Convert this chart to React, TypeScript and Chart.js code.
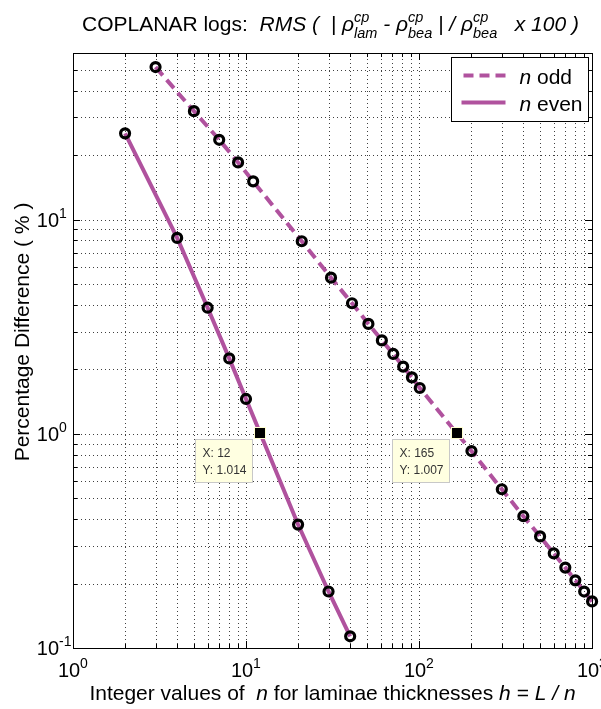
import React, { useEffect, useRef } from "react";
import { Chart, registerables } from "chart.js";

Chart.register(...registerables);

// ---- data ----
const oddN = [3, 5, 7, 9, 11, 21, 31, 41, 51, 61, 71, 81, 91, 101, 201, 301, 401, 501, 601, 701, 801, 901, 1001];
const oddPct = [51.6, 32.1, 23.6, 18.5, 15.1, 7.93, 5.36, 4.07, 3.26, 2.73, 2.36, 2.06, 1.835, 1.637, 0.831, 0.551, 0.4125, 0.332, 0.2766, 0.2373, 0.207, 0.1835, 0.165];
const evenN = [2, 4, 6, 8, 10, 20, 30, 40];
const evenPct = [25.3, 8.22, 3.88, 2.25, 1.455, 0.377, 0.1836, 0.1134];
const tipX = [12, 165];
const tipY = [1.014, 1.007];
const xTickValues = [1, 2, 3, 4, 5, 6, 7, 8, 9, 10, 20, 30, 40, 50, 60, 70, 80, 90, 100, 200, 300, 400, 500, 600, 700, 800, 900, 1000];
const yTickValues = [0.1, 0.2, 0.3, 0.4, 0.5, 0.6, 0.7, 0.8, 0.9, 1, 2, 3, 4, 5, 6, 7, 8, 9, 10, 20, 30, 40, 50];
const xMajorValues = [1, 10, 100, 1000];
const xMajorExps = ["0", "1", "2", "3"];
const yMajorValues = [0.1, 1, 10];
const yMajorExps = ["-1", "0", "1"];
const xMin = 1, xMax = 1000, yMin = 0.1, yMax = 60;

const LINE_COLOR = "rgb(176,82,158)";
const FONT = '"Liberation Sans", Arial, Helvetica, sans-serif';
const f = (sz: number, it?: boolean) => `${it ? "italic " : ""}${sz}px ${FONT}`;

type Seg = { t?: string; it?: boolean; sz?: number; dy?: number; sup?: string; sub?: string };

function segW(ctx: CanvasRenderingContext2D, s: Seg, subSz: number) {
  if (s.sup !== undefined) {
    ctx.font = f(subSz, s.it);
    return Math.max(ctx.measureText(s.sup).width, ctx.measureText(s.sub || "").width);
  }
  ctx.font = f(s.sz || 17, s.it);
  return ctx.measureText(s.t || "").width;
}

function drawRich(ctx: CanvasRenderingContext2D, segs: Seg[], x: number, y: number, align: string, subSz = 12, supDy = -8, subDy = 6) {
  const ws = segs.map((s) => segW(ctx, s, subSz));
  const total = ws.reduce((a, b) => a + b, 0);
  let cx = align === "left" ? x : align === "center" ? x - total / 2 : x - total;
  ctx.textAlign = "left";
  ctx.textBaseline = "alphabetic";
  segs.forEach((s, i) => {
    if (s.sup !== undefined) {
      ctx.font = f(subSz, s.it);
      ctx.fillText(s.sup, cx, y + supDy);
      ctx.fillText(s.sub || "", cx, y + subDy);
    } else {
      ctx.font = f(s.sz || 17, s.it);
      ctx.fillText(s.t || "", cx, y + (s.dy || 0));
    }
    cx += ws[i];
  });
  return total;
}

const dottedGrid = {
  id: "dottedGrid",
  beforeDatasetsDraw(chart: any) {
    const ctx: CanvasRenderingContext2D = chart.ctx;
    const { left, right, top, bottom } = chart.chartArea;
    const xs = chart.scales.x;
    const ys = chart.scales.y;
    ctx.save();
    ctx.strokeStyle = "rgba(0,0,0,0.75)";
    ctx.lineWidth = 1;
    ctx.setLineDash([1, 3]);
    ctx.beginPath();
    xs.ticks.forEach((t: any) => {
      if (t.value <= xMin || t.value >= xMax) return;
      const px = Math.round(xs.getPixelForValue(t.value)) + 0.5;
      ctx.moveTo(px, bottom);
      ctx.lineTo(px, top);
    });
    ys.ticks.forEach((t: any) => {
      if (t.value <= yMin || t.value >= yMax) return;
      const py = Math.round(ys.getPixelForValue(t.value)) + 0.5;
      ctx.moveTo(left, py);
      ctx.lineTo(right, py);
    });
    ctx.stroke();
    ctx.restore();
  },
};

const decor = {
  id: "matlabDecor",
  afterDraw(chart: any) {
    const ctx: CanvasRenderingContext2D = chart.ctx;
    const { left, right, top, bottom } = chart.chartArea;
    const xs = chart.scales.x;
    const ys = chart.scales.y;
    ctx.save();
    ctx.fillStyle = "#000";
    ctx.strokeStyle = "#000";

    // tick marks (inward, all four sides)
    ctx.lineWidth = 1;
    ctx.beginPath();
    xs.ticks.forEach((t: any) => {
      const v = t.value;
      if (v <= xMin || v >= xMax) return;
      const px = Math.round(xs.getPixelForValue(v)) + 0.5;
      const len = xMajorValues.includes(v) ? 7 : 4;
      ctx.moveTo(px, bottom);
      ctx.lineTo(px, bottom - len);
      ctx.moveTo(px, top);
      ctx.lineTo(px, top + len);
    });
    ys.ticks.forEach((t: any) => {
      const v = t.value;
      if (v <= yMin || v >= yMax) return;
      const py = Math.round(ys.getPixelForValue(v)) + 0.5;
      const len = yMajorValues.includes(v) ? 7 : 4;
      ctx.moveTo(left, py);
      ctx.lineTo(left + len, py);
      ctx.moveTo(right, py);
      ctx.lineTo(right - len, py);
    });
    ctx.stroke();

    // frame
    ctx.strokeRect(Math.round(left) + 0.5, Math.round(top) + 0.5, Math.round(right - left), Math.round(bottom - top));

    // tick labels
    ctx.fillStyle = "#000";
    xMajorValues.forEach((v, i) => {
      const px = xs.getPixelForValue(v);
      ctx.font = f(20);
      const w10 = ctx.measureText("10").width;
      drawRich(ctx, [{ t: "10", sz: 20 }, { t: xMajorExps[i], sz: 14, dy: -9 }], px - w10 / 2 - 4, bottom + 29, "left");
    });
    yMajorValues.forEach((v, i) => {
      const py = ys.getPixelForValue(v);
      ctx.font = f(20);
      const w10 = ctx.measureText("10").width;
      drawRich(ctx, [{ t: "10", sz: 20 }, { t: yMajorExps[i], sz: 14, dy: -9 }], left - 14 - w10, py + 7, "left");
    });

    // title
    drawRich(
      ctx,
      [
        { t: "COPLANAR logs:  ", sz: 21 },
        { t: "RMS (  | \u03C1", it: true, sz: 21 },
        { sup: "cp", sub: "lam", it: true },
        { t: " - \u03C1", it: true, sz: 21 },
        { sup: "cp", sub: "bea", it: true },
        { t: " | / \u03C1", it: true, sz: 21 },
        { sup: "cp", sub: "bea", it: true },
        { t: "   x 100 )", it: true, sz: 21 },
      ],
      (left + right) / 2 - 2,
      31,
      "center",
      14.5,
      -9,
      7
    );

    // x label
    drawRich(
      ctx,
      [
        { t: "Integer values of  ", sz: 21 },
        { t: "n", it: true, sz: 21 },
        { t: " for laminae thicknesses ", sz: 21 },
        { t: "h", it: true, sz: 21 },
        { t: " = ", sz: 21 },
        { t: "L / n", it: true, sz: 21 },
      ],
      (left + right) / 2,
      bottom + 52,
      "center"
    );

    // y label
    ctx.save();
    ctx.translate(29, 332);
    ctx.rotate(-Math.PI / 2);
    ctx.font = f(21);
    ctx.textAlign = "center";
    ctx.textBaseline = "alphabetic";
    ctx.fillText("Percentage Difference ( % )", 0, 0);
    ctx.restore();

    // data tips: marker + box
    tipX.forEach((xv, i) => {
      const px = xs.getPixelForValue(xv);
      const py = ys.getPixelForValue(tipY[i]);
      ctx.fillStyle = "#FFFFD0";
      ctx.fillRect(Math.round(px) - 6, Math.round(py) - 6, 12, 12);
      ctx.fillStyle = "#000";
      ctx.fillRect(Math.round(px) - 5, Math.round(py) - 5, 10, 10);
      const bw = 57, bh = 43;
      const bx = Math.round(px - 8 - bw) + 0.5;
      const by = Math.round(py + 6) + 0.5;
      ctx.fillStyle = "#FFFFE1";
      ctx.fillRect(bx, by, bw, bh);
      ctx.strokeStyle = "#C8C8C8";
      ctx.lineWidth = 1;
      ctx.strokeRect(bx, by, bw, bh);
      ctx.fillStyle = "#333";
      ctx.font = f(12);
      ctx.textAlign = "left";
      ctx.fillText("X: " + xv, bx + 7, by + 17);
      ctx.fillText("Y: " + tipY[i].toFixed(3), bx + 7, by + 34);
    });

    // legend
    const lw = 137, lh = 64;
    const lx = Math.round(right - 4 - lw) + 0.5;
    const ly = Math.round(top + 4) + 0.5;
    ctx.fillStyle = "#fff";
    ctx.fillRect(lx, ly, lw, lh);
    ctx.strokeStyle = "#000";
    ctx.lineWidth = 1;
    ctx.strokeRect(lx, ly, lw, lh);
    ctx.strokeStyle = LINE_COLOR;
    ctx.lineWidth = 4;
    ctx.setLineDash([10, 6]);
    ctx.beginPath();
    ctx.moveTo(lx + 12, ly + 18);
    ctx.lineTo(lx + 54, ly + 18);
    ctx.stroke();
    ctx.setLineDash([]);
    ctx.beginPath();
    ctx.moveTo(lx + 10, ly + 45);
    ctx.lineTo(lx + 54, ly + 45);
    ctx.stroke();
    ctx.fillStyle = "#000";
    drawRich(ctx, [{ t: "n", it: true, sz: 21 }, { t: " odd", sz: 21 }], lx + 68, ly + 26, "left");
    drawRich(ctx, [{ t: "n", it: true, sz: 21 }, { t: " even", sz: 21 }], lx + 68, ly + 53, "left");

    ctx.restore();
  },
};

export default function App() {
  const ref = useRef<HTMLCanvasElement>(null);
  useEffect(() => {
    const canvas = ref.current;
    if (!canvas) return;
    const pointStyle = {
      pointRadius: 4.5,
      pointBorderWidth: 3.2,
      pointBorderColor: "#000",
      pointBackgroundColor: "rgba(0,0,0,0)",
    };
    const chart = new Chart(canvas, {
      type: "line",
      data: {
        datasets: [
          {
            label: "n odd",
            data: oddN.map((n, i) => ({ x: n, y: oddPct[i] })),
            borderColor: LINE_COLOR,
            borderWidth: 4,
            borderDash: [11, 6],
            ...pointStyle,
            fill: false,
            tension: 0,
            clip: false,
          },
          {
            label: "n even",
            data: evenN.map((n, i) => ({ x: n, y: evenPct[i] })),
            borderColor: LINE_COLOR,
            borderWidth: 4,
            ...pointStyle,
            fill: false,
            tension: 0,
            clip: false,
          },
        ],
      },
      options: {
        responsive: false,
        animation: false,
        devicePixelRatio: 1,
        events: [],
        layout: { padding: { left: 73, right: 9, top: 53, bottom: 61 } },
        plugins: { legend: { display: false }, tooltip: { enabled: false }, title: { display: false } },
        scales: {
          x: {
            type: "logarithmic",
            min: xMin,
            max: xMax,
            afterBuildTicks: (s: any) => {
              s.ticks = xTickValues.map((v) => ({ value: v }));
            },
            grid: { display: false, drawTicks: false },
            border: { display: false },
            ticks: { display: false },
          },
          y: {
            type: "logarithmic",
            min: yMin,
            max: yMax,
            afterBuildTicks: (s: any) => {
              s.ticks = yTickValues.map((v) => ({ value: v }));
            },
            grid: { display: false, drawTicks: false },
            border: { display: false },
            ticks: { display: false },
          },
        },
      },
      plugins: [dottedGrid, decor],
    } as any);
    return () => chart.destroy();
  }, []);
  return (
    <div style={{ position: "fixed", left: 0, top: 0, width: 601, height: 709, background: "#fff" }}>
      <canvas ref={ref} width={601} height={709} style={{ display: "block", width: 601, height: 709 }} />
    </div>
  );
}
